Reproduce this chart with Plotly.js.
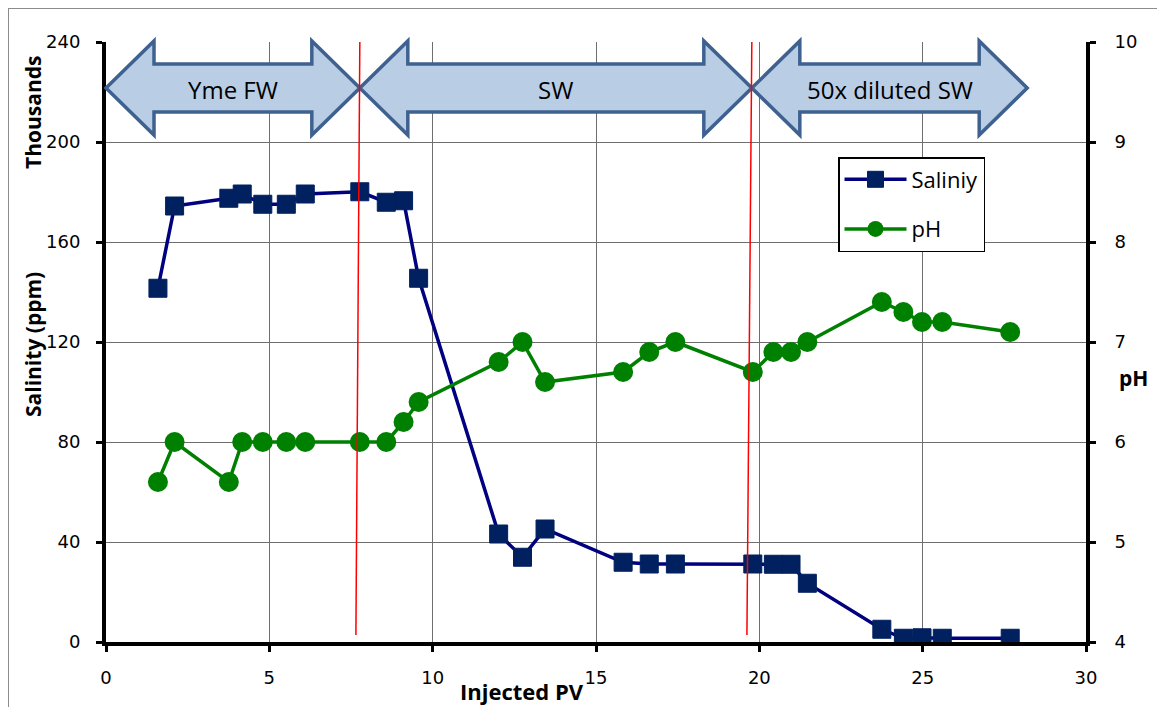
<!DOCTYPE html>
<html>
<head>
<meta charset="utf-8">
<script src="https://cdn.plot.ly/plotly-3.0.1.min.js"></script>
<style>
  html, body { margin: 0; padding: 0; background: #fff; overflow: hidden; }
  #frame { position: absolute; left: 8px; top: 8px; width: 1160px; height: 710px;
           border: 1px solid #8c8c8c; box-sizing: border-box; pointer-events: none; }
  #chart { position: absolute; left: 0; top: 0; width: 1157px; height: 707px; }
</style>
</head>
<body>
<div id="chart"></div>
<div id="frame"></div>
<script>
// Injected pore volumes at each sample
const injectedPV = [1.59, 2.10, 3.76, 4.17, 4.80, 5.52, 6.10, 7.77, 8.58, 9.11, 9.57,
                    12.02, 12.75, 13.44, 15.83, 16.63, 17.43, 19.80, 20.43, 20.97, 21.47,
                    23.75, 24.41, 24.98, 25.60, 27.68];
// Effluent salinity, thousands of ppm
const salinityK = [141.5, 174.4, 177.5, 179.2, 175.1, 175.1, 179.2, 180.1, 175.9, 176.5, 145.5,
                   43.2, 33.9, 45.2, 31.9, 31.2, 31.2, 31.2, 31.1, 31.1, 23.5,
                   5.1, 1.5, 1.7, 1.5, 1.5];
// Effluent pH
const pH = [5.6, 6.0, 5.6, 6.0, 6.0, 6.0, 6.0, 6.0, 6.0, 6.2, 6.4,
            6.8, 7.0, 6.6, 6.7, 6.9, 7.0, 6.7, 6.9, 6.9, 7.0,
            7.4, 7.3, 7.2, 7.2, 7.1];

// Injection brine stages: label and PV span
const stageLabels = ['Yme FW', 'SW', '50x diluted SW'];
const stageStart = [0, 7.77, 19.77];
const stageEnd   = [7.77, 19.77, 28.2];
// Brine switch markers (top and bottom PV of each drawn line)
const switchTop    = [7.77, 19.77];
const switchBottom = [7.65, 19.62];

const xRange = [0, 30];
const pHRange = [4, 10];
const W = 1157, H = 707;
const M = {l: 106, r: 71, t: 42, b: 65};
const plotW = W - M.l - M.r, plotH = H - M.t - M.b;
const px2paperX = p => (p - M.l) / plotW;
const px2paperY = p => (H - M.b - p) / plotH;
const pv2paper = v => (v - xRange[0]) / (xRange[1] - xRange[0]);

// double-headed block arrow in paper coordinates
function blockArrow(x0, x1) {
  const yc = px2paperY(88);
  const headH = 47 / plotH, shaftH = 24 / plotH, headL = 48 / plotW;
  const pts = [
    [x0, yc], [x0 + headL, yc + headH], [x0 + headL, yc + shaftH],
    [x1 - headL, yc + shaftH], [x1 - headL, yc + headH], [x1, yc],
    [x1 - headL, yc - headH], [x1 - headL, yc - shaftH],
    [x0 + headL, yc - shaftH], [x0 + headL, yc - headH]
  ];
  return {
    type: 'path', xref: 'paper', yref: 'paper', layer: 'above',
    path: 'M' + pts.map(p => p[0].toFixed(5) + ',' + p[1].toFixed(5)).join(' L') + ' Z',
    fillcolor: '#B9CDE5', line: {color: '#3E6190', width: 3.5}
  };
}

const shapes = [];
const annotations = [];
stageLabels.forEach((lab, i) => {
  const a = pv2paper(stageStart[i]), b = pv2paper(stageEnd[i]);
  shapes.push(blockArrow(a, b));
  annotations.push({
    xref: 'paper', yref: 'paper', x: (a + b) / 2, y: px2paperY(90),
    text: lab, showarrow: false, xanchor: 'center', yanchor: 'middle',
    font: {family: 'Open Sans, sans-serif', size: 24, color: '#000'}
  });
});
switchTop.forEach((t, i) => {
  shapes.push({
    type: 'line', xref: 'x', yref: 'y', layer: 'above',
    x0: t, y0: 240, x1: switchBottom[i], y1: 2.8,
    line: {color: '#FF0000', width: 1.5}
  });
});

const titleFont = {family: 'Open Sans, sans-serif', size: 21, color: '#000', weight: 'bold'};
annotations.push(
  {xref: 'paper', yref: 'paper', x: px2paperX(33), y: px2paperY(113), text: '<b>Thousands</b>',
   textangle: -90, showarrow: false, xanchor: 'center', yanchor: 'middle', font: titleFont},
  {xref: 'paper', yref: 'paper', x: px2paperX(33), y: px2paperY(345), text: '<b>Salinity (ppm)</b>',
   textangle: -90, showarrow: false, xanchor: 'center', yanchor: 'middle', font: titleFont},
  {xref: 'paper', yref: 'paper', x: px2paperX(1133), y: px2paperY(378), text: '<b>pH</b>',
   showarrow: false, xanchor: 'center', yanchor: 'middle', font: titleFont},
  {xref: 'paper', yref: 'paper', x: px2paperX(522), y: px2paperY(691), text: '<b>Injected PV</b>',
   showarrow: false, xanchor: 'center', yanchor: 'middle',
   font: Object.assign({}, titleFont, {size: 22})}
);

const traces = [
  {
    x: injectedPV, y: salinityK, name: 'Saliniy', type: 'scatter', mode: 'lines+markers',
    line: {color: '#000080', width: 3.5},
    marker: {symbol: 'square', size: 18, color: '#002060', line: {color: '#002060', width: 1}},
    legendgroup: 'a', yaxis: 'y'
  },
  {
    x: injectedPV, y: pH, name: 'pH', type: 'scatter', mode: 'lines+markers',
    line: {color: '#008000', width: 3.5},
    marker: {symbol: 'circle', size: 20, color: '#008000'},
    legendgroup: 'b', yaxis: 'y2'
  },
  // carrier for the pH tick-label axis
  {x: [null], y: [null], yaxis: 'y3', type: 'scatter', mode: 'markers',
   showlegend: false, hoverinfo: 'skip'}
];

const tickFont = {family: 'DejaVu Sans, sans-serif', size: 18, color: '#000'};
const layout = {
  width: W, height: H,
  margin: M,
  paper_bgcolor: '#fff', plot_bgcolor: '#fff',
  showlegend: true,
  legend: {
    x: px2paperX(838), y: px2paperY(157), xanchor: 'left', yanchor: 'top',
    bgcolor: '#fff', bordercolor: '#000', borderwidth: 1.5,
    font: {family: 'Open Sans, sans-serif', size: 22, color: '#000'},
    traceorder: 'grouped', tracegroupgap: 18, itemwidth: 62
  },
  xaxis: {
    range: xRange, dtick: 5, tick0: 0,
    showline: true, linecolor: '#000', linewidth: 4, mirror: false,
    ticks: 'outside', ticklen: 6, tickwidth: 3, tickcolor: '#000',
    ticklabelstandoff: 10,
    showgrid: true, gridcolor: '#6e6e6e', gridwidth: 1,
    zeroline: false, tickfont: tickFont
  },
  yaxis: {
    range: [0, 240], dtick: 40, tick0: 0,
    showline: true, linecolor: '#000', linewidth: 4,
    ticks: 'outside', ticklen: 6, tickwidth: 3, tickcolor: '#000',
    ticklabelstandoff: 12,
    showgrid: true, gridcolor: '#6e6e6e', gridwidth: 1,
    zeroline: false, tickfont: tickFont
  },
  yaxis2: {
    range: pHRange, dtick: 1, tick0: 4, overlaying: 'y', side: 'right',
    showline: true, linecolor: '#000', linewidth: 4,
    ticks: 'outside', ticklen: 6, tickwidth: 3, tickcolor: '#000',
    showticklabels: false,
    showgrid: false, zeroline: false
  },
  // pH tick labels set a little further out from the right axis line
  yaxis3: {
    range: pHRange, dtick: 1, tick0: 4, overlaying: 'y', side: 'right',
    showline: false, ticks: 'outside', ticklen: 24, tickcolor: 'rgba(0,0,0,0)',
    showgrid: false, zeroline: false, tickfont: tickFont
  },
  shapes: shapes,
  annotations: annotations
};

Plotly.newPlot('chart', traces, layout, {displayModeBar: false, staticPlot: true});
</script>
</body>
</html>
